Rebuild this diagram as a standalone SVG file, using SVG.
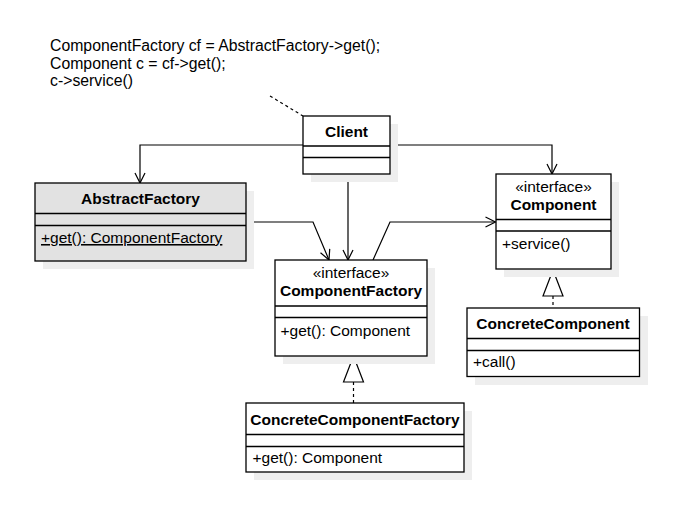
<svg xmlns="http://www.w3.org/2000/svg" width="682" height="519" viewBox="0 0 682 519">
<defs>
<marker id="open" viewBox="0 0 12 12" refX="11" refY="6" markerWidth="12" markerHeight="12" markerUnits="userSpaceOnUse" orient="auto">
<path d="M1,1 L11,6 L1,11" fill="none" stroke="#000" stroke-width="1.2"/>
</marker>
</defs>
<style>
text{font-family:"Liberation Sans",Arial,sans-serif;font-size:15.5px;fill:#000}
.n{font-size:15.8px}
.b{font-weight:bold}
.c{text-anchor:middle}
.box{fill:#fff;stroke:#000;stroke-width:1.3}
.grey{fill:#e2e2e2}
.sh{fill:#eeeeee;stroke:none}
.ln{stroke:#000;stroke-width:1.3;fill:none}
.edge{stroke:#000;stroke-width:1.2;fill:none}
.dash{stroke:#000;stroke-width:1.2;fill:none;stroke-dasharray:3,3}
.tri{fill:#fff;stroke:#000;stroke-width:1.2}
</style>
<rect width="682" height="519" fill="#fff"/>

<g id="note">
<text class="n" x="50" y="51">ComponentFactory cf = AbstractFactory-&gt;get();</text>
<text class="n" x="50" y="68.5">Component c = cf-&gt;get();</text>
<text class="n" x="50" y="86">c-&gt;service()</text>
</g>

<g id="connectors">
<path class="dash" d="M270,96 L303,116"/>
<path class="edge" d="M303,145 L140,145 L140,183" marker-end="url(#open)"/>
<path class="edge" d="M390,145 L552,145 L552,174" marker-end="url(#open)"/>
<path class="edge" d="M348,174 L348,260" marker-end="url(#open)"/>
<path class="edge" d="M246,222 L313,222 L329,260" marker-end="url(#open)"/>
<path class="edge" d="M373,260 L390,222 L495.5,222" marker-end="url(#open)"/>
<path class="dash" d="M553,296 L553,308"/>
<polygon class="tri" points="553,270 543,296 563,296"/>
<path class="dash" d="M353.5,382 L353.5,403"/>
<polygon class="tri" points="353.5,356 343.5,382 363.5,382"/>
</g>

<g id="Client">
<rect class="sh" x="311" y="124" width="87" height="58"/>
<rect class="box" x="303" y="116" width="87" height="58"/>
<path class="ln" d="M303,146H390M303,157.5H390"/>
<text class="b c" x="346.5" y="137">Client</text>
</g>

<g id="AbstractFactory">
<rect class="sh" x="43" y="191" width="211" height="78"/>
<rect class="box grey" x="35" y="183" width="211" height="78"/>
<path class="ln" d="M35,213.5H246M35,225.5H246"/>
<text class="b c" x="140.5" y="204">AbstractFactory</text>
<text x="41" y="243" text-decoration="underline">+get(): ComponentFactory</text>
</g>

<g id="ComponentFactory">
<rect class="sh" x="283" y="268" width="152" height="96"/>
<rect class="box" x="275" y="260" width="152" height="96"/>
<path class="ln" d="M275,306H427M275,317.5H427"/>
<text class="c" x="351" y="278">«interface»</text>
<text class="b c" x="351" y="295.5">ComponentFactory</text>
<text x="280.5" y="336">+get(): Component</text>
</g>

<g id="Component">
<rect class="sh" x="504" y="182" width="115" height="95"/>
<rect class="box" x="496" y="174" width="115" height="95"/>
<path class="ln" d="M496,219.5H611M496,231H611"/>
<text class="c" x="553.5" y="191.5">«interface»</text>
<text class="b c" x="553.5" y="209.5">Component</text>
<text x="502" y="248.5">+service()</text>
</g>

<g id="ConcreteComponent">
<rect class="sh" x="475" y="316" width="173" height="69"/>
<rect class="box" x="467" y="308" width="172.5" height="68.5"/>
<path class="ln" d="M467,338.5H639.5M467,350.5H639.5"/>
<text class="b c" x="553" y="328.5">ConcreteComponent</text>
<text x="473" y="366.5">+call()</text>
</g>

<g id="ConcreteComponentFactory">
<rect class="sh" x="254" y="411" width="218" height="69"/>
<rect class="box" x="246" y="403" width="218" height="69"/>
<path class="ln" d="M246,434.5H464M246,446.5H464"/>
<text class="b c" x="355" y="424.5">ConcreteComponentFactory</text>
<text x="252.5" y="463">+get(): Component</text>
</g>
</svg>
